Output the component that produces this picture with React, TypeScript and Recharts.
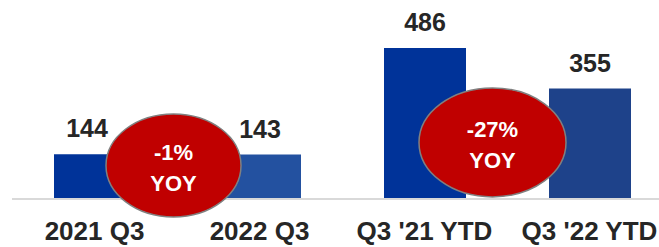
import { BarChart, Bar, XAxis, YAxis, Cell, LabelList, ReferenceDot } from "recharts";

const categories = ["2021 Q3", "2022 Q3", "Q3 '21 YTD", "Q3 '22 YTD"];
const values = [144, 143, 486, 355];

// YOY bubbles: anchored on the first bar of each pair
const yoyAnchors = ["2021 Q3", "Q3 '21 YTD"];
const yoyLevels = [108, 182];
const yoyLabels = ["-1%", "-27%"];

const COLORS = ["#003399", "#2351A0", "#003399", "#1E428A"];
const TEXT = "#262626";
const FONT = "'Liberation Sans', Arial, sans-serif";

const bubbleStyle = [
  { dx: 79, rx: 67.5, ry: 51.5 },
  { dx: 68, rx: 73.5, ry: 54.5 },
];

const data = categories.map((name, i) => ({ name, value: values[i] }));

function ValueLabel(props: any) {
  const { x, y, width, value, index } = props;
  const shift = index === 0 ? -8 : 0;
  return (
    <text
      x={x + width / 2 + shift}
      y={y - 17}
      textAnchor="middle"
      fill={TEXT}
      fontSize={25}
      fontWeight="bold"
      fontFamily={FONT}
    >
      {value}
    </text>
  );
}

function CategoryTick(props: any) {
  const { x, y, payload } = props;
  return (
    <text
      x={x}
      y={y + 41}
      textAnchor="middle"
      fill={TEXT}
      fontSize={26}
      fontWeight="bold"
      fontFamily={FONT}
    >
      {payload.value}
    </text>
  );
}

function bubble(i: number) {
  return (props: any) => {
    const { cx, cy } = props;
    const s = bubbleStyle[i];
    const x = cx + s.dx;
    return (
      <g>
        <ellipse cx={x} cy={cy} rx={s.rx} ry={s.ry} fill="#C00000" stroke="#808080" strokeWidth={1.5} />
        <text x={x} y={cy - 5} textAnchor="middle" fill="#fff" fontSize={22} fontWeight="bold" fontFamily={FONT}>
          {yoyLabels[i]}
        </text>
        <text x={x} y={cy + 26} textAnchor="middle" fill="#fff" fontSize={22} fontWeight="bold" fontFamily={FONT}>
          YOY
        </text>
      </g>
    );
  };
}

export default function App() {
  return (
    <div style={{ position: "absolute", left: 0, top: 0, width: 659, height: 247, overflow: "hidden", background: "#fff" }}>
      <BarChart width={672} height={247} data={data} margin={{ top: 0, right: 0, left: 12, bottom: 18 }}>
        <XAxis
          dataKey="name"
          height={30}
          axisLine={{ stroke: "#D9D9D9", strokeWidth: 2 }}
          tickLine={false}
          tickSize={0}
          tickMargin={0}
          interval={0}
          tick={<CategoryTick />}
        />
        <YAxis hide domain={[0, 640]} />
        <Bar dataKey="value" barSize={82} isAnimationActive={false}>
          {data.map((entry, index) => (
            <Cell key={`cell-${index}`} fill={COLORS[index]} />
          ))}
          <LabelList dataKey="value" content={<ValueLabel />} />
        </Bar>
        {yoyAnchors.map((cat, i) => (
          <ReferenceDot key={cat} x={cat} y={yoyLevels[i]} r={0} shape={bubble(i)} ifOverflow="visible" />
        ))}
      </BarChart>
    </div>
  );
}
